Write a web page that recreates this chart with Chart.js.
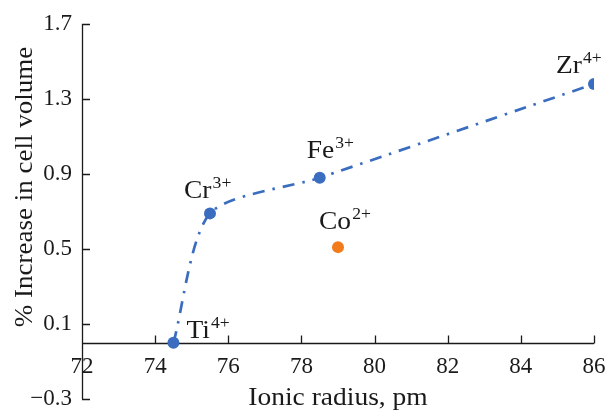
<!DOCTYPE html>
<html lang="en">
<head>
<meta charset="UTF-8">
<title>Cell volume vs ionic radius</title>
<style>
  html, body { margin: 0; padding: 0; background: #fff; }
  .container_grafico { position: relative; width: 611px; height: 418px; }
</style>
</head>
<body>
<div class="container_grafico">
  <canvas id="grafico" width="611" height="418"></canvas>
</div>
<script src="https://cdn.jsdelivr.net/npm/chart.js"></script>
<script>
  // ions joined by the dash-dot line
  var ionsLine = ['Ti', 'Cr', 'Fe', 'Zr'];
  var chargesLine = ['4+', '3+', '3+', '4+'];
  var radiusLine = [74.5, 75.5, 78.5, 86];
  var increaseLine = [0.0, 0.69, 0.88, 1.38];

  // Co2+ sits off the line
  var ionsOther = ['Co'];
  var chargesOther = ['2+'];
  var radiusOther = [79];
  var increaseOther = [0.51];

  var xTicks = [72, 74, 76, 78, 80, 82, 84, 86];
  var yTicks = [-0.3, 0.1, 0.5, 0.9, 1.3, 1.7];

  var serif = '"Liberation Serif", "Times New Roman", serif';
  var azul = '#3a6dbf';
  var laranja = '#f27b1c';

  // where each label goes, relative to its point (px)
  var labelOffsets = { Ti: [13, -5], Cr: [-26, -15], Fe: [-13, -20], Co: [-19, -18], Zr: [-38, -11] };

  function desenharRotulo(ctx, x, y, base, sup) {
    ctx.save();
    ctx.translate(x, y);
    ctx.scale(1.1, 1); // the original serif is a bit wider
    ctx.font = '25px ' + serif;
    ctx.textAlign = 'left';
    ctx.textBaseline = 'alphabetic';
    ctx.fillText(base, 0, 0);
    var w = ctx.measureText(base).width;
    ctx.font = '16px ' + serif;
    ctx.fillText(sup, w + 1, -10);
    ctx.restore();
  }

  // keep the plot box where the original has it
  function semPadding(axis) {
    axis.paddingLeft = 0;
    axis.paddingRight = 0;
    axis.paddingTop = 0;
    axis.paddingBottom = 0;
  }

  const eixosPlugin = {
    id: 'eixos',
    beforeDatasetsDraw(chart) {
      const ctx = chart.ctx;
      const sx = chart.scales.x, sy = chart.scales.y;
      const area = chart.chartArea;
      const y0 = Math.round(sy.getPixelForValue(0)) + 0.5;
      const xl = Math.round(area.left) + 0.5;
      ctx.save();
      ctx.strokeStyle = '#1a1a1a';
      ctx.lineWidth = 1.3;
      ctx.beginPath();
      ctx.moveTo(xl, area.top);
      ctx.lineTo(xl, area.bottom);
      ctx.moveTo(area.left, y0);
      ctx.lineTo(area.right, y0);
      // y ticks point right, x ticks point up
      yTicks.forEach(function (v) {
        const py = Math.round(sy.getPixelForValue(v)) + 0.5;
        ctx.moveTo(area.left, py);
        ctx.lineTo(area.left + 8, py);
      });
      xTicks.forEach(function (v) {
        const px = Math.round(sx.getPixelForValue(v)) + 0.5;
        ctx.moveTo(px, y0);
        ctx.lineTo(px, y0 - 8);
      });
      ctx.stroke();
      ctx.restore();
    },
    afterDatasetsDraw(chart) {
      const ctx = chart.ctx;
      const sx = chart.scales.x, sy = chart.scales.y;
      ctx.save();
      ctx.fillStyle = '#1a1a1a';
      var ions = ionsLine.concat(ionsOther);
      var charges = chargesLine.concat(chargesOther);
      var rs = radiusLine.concat(radiusOther);
      var vs = increaseLine.concat(increaseOther);
      for (var i = 0; i < ions.length; i++) {
        var off = labelOffsets[ions[i]];
        desenharRotulo(ctx, sx.getPixelForValue(rs[i]) + off[0], sy.getPixelForValue(vs[i]) + off[1], ions[i], charges[i]);
      }
      // axis titles
      ctx.font = '25px ' + serif;
      ctx.textAlign = 'center';
      ctx.textBaseline = 'alphabetic';
      ctx.save();
      ctx.translate((chart.chartArea.left + chart.chartArea.right) / 2, 405);
      ctx.scale(1.1, 1);
      ctx.fillText('Ionic radius, pm', 0, 0);
      ctx.restore();
      ctx.translate(32, 187);
      ctx.rotate(-Math.PI / 2);
      ctx.scale(1.08, 1);
      ctx.fillText('% Increase in cell volume', 0, 0);
      ctx.restore();
    }
  };

  const config = {
    type: 'scatter',
    data: {
      datasets: [{
        label: 'line',
        data: radiusLine.map(function (r, i) { return { x: r, y: increaseLine[i] }; }),
        showLine: true,
        tension: 0.25,
        borderColor: azul,
        borderWidth: 2.7,
        borderDash: [12, 8, 2.5, 8],
        pointRadius: 6,
        pointBackgroundColor: azul,
        pointBorderColor: azul,
        pointBorderWidth: 0
      }, {
        label: 'other',
        data: radiusOther.map(function (r, i) { return { x: r, y: increaseOther[i] }; }),
        pointRadius: 6,
        pointBackgroundColor: laranja,
        pointBorderColor: laranja,
        pointBorderWidth: 0
      }]
    },
    options: {
      responsive: false,
      animation: false,
      devicePixelRatio: 1,
      layout: { padding: { left: 0, top: 24, right: 17, bottom: 19 } },
      plugins: { legend: { display: false }, tooltip: { enabled: false } },
      scales: {
        x: {
          type: 'linear',
          position: { y: 0 },
          min: 72, max: 86,
          afterBuildTicks: function (axis) { axis.ticks = xTicks.map(function (v) { return { value: v }; }); },
          afterFit: semPadding,
          grid: { display: false, drawTicks: false },
          border: { display: false },
          ticks: {
            padding: 10,
            color: '#1a1a1a',
            font: { family: serif, size: 23 },
            maxRotation: 0,
            callback: function (v) { return String(v); }
          }
        },
        y: {
          type: 'linear',
          min: -0.3, max: 1.7,
          afterBuildTicks: function (axis) { axis.ticks = yTicks.map(function (v) { return { value: v }; }); },
          afterFit: function (axis) { axis.width = 82; semPadding(axis); },
          grid: { display: false, drawTicks: false },
          border: { display: false },
          ticks: {
            padding: 10,
            color: '#1a1a1a',
            font: { family: serif, size: 23 },
            callback: function (v) { return Number(v).toFixed(1).replace('-', '\u2212'); }
          }
        }
      }
    },
    plugins: [eixosPlugin]
  };

  let myChart = new Chart(document.getElementById('grafico'), config);
</script>
</body>
</html>
